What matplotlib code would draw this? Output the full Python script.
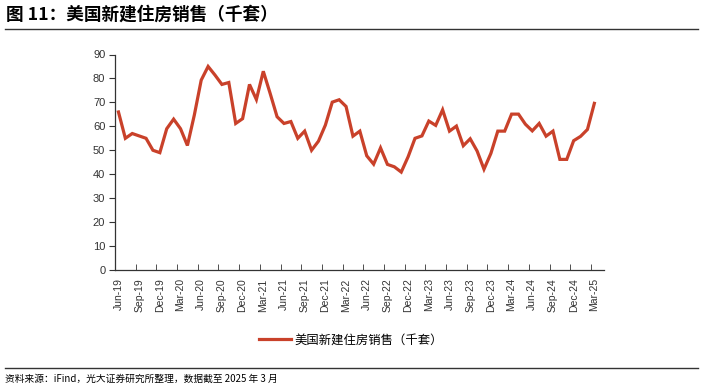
import matplotlib
matplotlib.use("Agg")
import matplotlib.pyplot as plt
import numpy as np

plt.rcParams['font.family'] = ['Liberation Sans', 'Noto Sans CJK SC', 'DejaVu Sans']

# monthly data, Jun-19 .. Mar-25
months = ["Jun-19", "Jul-19", "Aug-19", "Sep-19", "Oct-19", "Nov-19", "Dec-19",
          "Jan-20", "Feb-20", "Mar-20", "Apr-20", "May-20", "Jun-20", "Jul-20",
          "Aug-20", "Sep-20", "Oct-20", "Nov-20", "Dec-20",
          "Jan-21", "Feb-21", "Mar-21", "Apr-21", "May-21", "Jun-21", "Jul-21",
          "Aug-21", "Sep-21", "Oct-21", "Nov-21", "Dec-21",
          "Jan-22", "Feb-22", "Mar-22", "Apr-22", "May-22", "Jun-22", "Jul-22",
          "Aug-22", "Sep-22", "Oct-22", "Nov-22", "Dec-22",
          "Jan-23", "Feb-23", "Mar-23", "Apr-23", "May-23", "Jun-23", "Jul-23",
          "Aug-23", "Sep-23", "Oct-23", "Nov-23", "Dec-23",
          "Jan-24", "Feb-24", "Mar-24", "Apr-24", "May-24", "Jun-24", "Jul-24",
          "Aug-24", "Sep-24", "Oct-24", "Nov-24", "Dec-24",
          "Jan-25", "Feb-25", "Mar-25"]
sales = [66, 55, 57, 56, 55, 50, 49,
         59, 63, 59, 52, 64.7, 79.3, 85,
         81.4, 77.5, 78.3, 61.2, 63.2,
         77.5, 71.2, 83, 73.7, 64, 61.2, 62,
         55, 58, 50, 53.8, 60.5,
         70.1, 71.1, 68.3, 55.9, 58, 47.7, 44.2,
         51, 44.1, 43.1, 40.9, 47.3,
         55, 56, 62.2, 60.4, 66.9, 58, 60.1,
         51.9, 54.8, 49.7, 42.1, 48.7,
         58, 58, 65.1, 65.1, 60.9, 58.1, 61.2,
         55.9, 58, 46.2, 46.2, 54,
         55.8, 58.7, 69.6]
series_name = "美国新建住房销售（千套）"
title = "图 11：美国新建住房销售（千套）"
source = "资料来源：iFind，光大证券研究所整理，数据截至 2025 年 3 月"

W, H = 703, 389
fig = plt.figure(figsize=(W / 100, H / 100), dpi=100)
ax = fig.add_axes([115 / W, 1 - 270 / H, (604 - 115) / W, (270 - 54.5) / H])

x = np.arange(len(months))
line, = ax.plot(x, sales, color="#C9412A", lw=2.3, solid_joinstyle="miter")

ax.set_ylim(0, 90)
ax.set_yticks(range(0, 91, 10))
ax.set_xlim(-0.5, 70.4)
ax.set_xticks(x[::3])
ax.set_xticklabels(months[::3], rotation=90)
ax.set_xticks(np.arange(-0.5, len(months), 3), minor=True)
ax.tick_params(axis="x", which="major", length=0, pad=6, labelsize=7.5, labelcolor="#333333")
ax.tick_params(axis="x", which="minor", direction="in", length=4, color="#333333")
ax.tick_params(axis="y", direction="out", length=4, color="#333333", labelsize=8,
               labelcolor="#333333", pad=3)
for s in ["top", "right"]:
    ax.spines[s].set_visible(False)
for s in ["left", "bottom"]:
    ax.spines[s].set_color("#333333")
    ax.spines[s].set_linewidth(0.9)

fig.legend([line], [series_name], loc="center", bbox_to_anchor=(351 / W, 1 - 340 / H),
           frameon=False, handlelength=2.6, handletextpad=0.3,
           prop={"family": "Noto Sans CJK SC", "size": 8.9})

fig.text(6 / W, 1 - 15 / H, title, fontsize=12.7, fontweight="bold", va="center", ha="left",
         family="Noto Sans CJK SC")
fig.add_artist(plt.Line2D([5 / W, 698 / W], [1 - 29 / H, 1 - 29 / H], color="#333333", lw=1))
fig.add_artist(plt.Line2D([5 / W, 698 / W], [1 - 368 / H, 1 - 368 / H], color="#333333", lw=1))
fig.text(5 / W, 1 - 378.5 / H, source, fontsize=7, va="center", ha="left",
         family="Noto Sans CJK SC")

fig.savefig("out.png", dpi=100)
